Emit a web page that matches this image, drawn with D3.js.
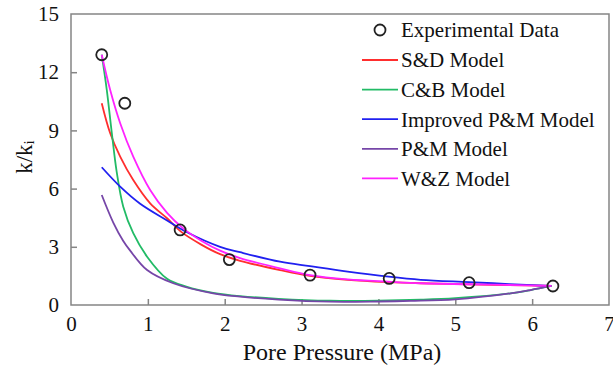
<!DOCTYPE html>
<html>
<head>
<meta charset="utf-8">
<script src="https://cdn.jsdelivr.net/npm/d3@7"></script>
<style>
  body { margin: 0; background: #fff; }
</style>
</head>
<body>
<script>
// values: [pore pressure (MPa), k/ki]
const experimental = [[0.40, 12.9], [0.70, 10.4], [1.42, 3.87], [2.06, 2.34], [3.11, 1.54], [4.14, 1.37], [5.18, 1.15], [6.27, 0.98]];

const sdModel = [[0.40, 10.4], [0.51, 8.85], [0.64, 7.65], [0.81, 6.44], [1.03, 5.24], [1.25, 4.47], [1.43, 3.78], [1.70, 3.1], [1.94, 2.62], [2.20, 2.28], [2.72, 1.8], [3.11, 1.5], [3.60, 1.3], [4.13, 1.18], [4.55, 1.12], [5.18, 1.06], [5.70, 1.02], [6.25, 0.99]];
const cbModel = [[0.40, 12.9], [0.465, 11.1], [0.53, 8.9], [0.595, 6.85], [0.68, 5.07], [0.81, 3.7], [0.99, 2.49], [1.25, 1.35], [1.50, 0.95], [1.85, 0.63], [2.20, 0.46], [2.70, 0.32], [3.37, 0.22], [4.00, 0.22], [4.55, 0.27], [5.00, 0.35], [5.72, 0.6], [5.98, 0.77], [6.25, 0.98]];
const improvedPmModel = [[0.40, 7.1], [0.64, 6.1], [0.90, 5.22], [1.25, 4.36], [1.51, 3.75], [1.94, 3.0], [2.20, 2.72], [2.72, 2.23], [3.11, 2.0], [3.60, 1.72], [4.13, 1.46], [4.55, 1.3], [5.18, 1.18], [5.70, 1.08], [6.25, 0.98]];
const pmModel = [[0.40, 5.67], [0.55, 4.25], [0.68, 3.3], [0.77, 2.8], [0.99, 1.8], [1.33, 1.12], [1.85, 0.6], [2.20, 0.43], [2.70, 0.28], [3.37, 0.17], [4.00, 0.18], [4.42, 0.21], [5.00, 0.29], [5.72, 0.6], [5.98, 0.77], [6.25, 0.98]];
const wzModel = [[0.40, 12.9], [0.51, 11.08], [0.64, 9.37], [0.81, 7.65], [1.03, 5.93], [1.25, 4.75], [1.46, 3.95], [1.70, 3.3], [1.94, 2.8], [2.20, 2.42], [2.72, 1.89], [3.11, 1.54], [3.60, 1.32], [4.13, 1.2], [4.55, 1.12], [5.18, 1.07], [5.70, 1.03], [6.25, 0.99]];

const xTicks = [0, 1, 2, 3, 4, 5, 6, 7];
const yTicks = [0, 3, 6, 9, 12, 15];

const models = [
    {name: "S&D Model", data: sdModel, color: "#ff2e2e"},
    {name: "C&B Model", data: cbModel, color: "#22bb66"},
    {name: "Improved P&M Model", data: improvedPmModel, color: "#2020f0"},
    {name: "P&M Model", data: pmModel, color: "#7646a8"},
    {name: "W&Z Model", data: wzModel, color: "#ff22ff"}
];

const serif = "'Liberation Serif', 'Times New Roman', serif";
const width = 613, height = 369;
const margin = {left: 71, right: 4, top: 14, bottom: 64};

const svg = d3.select("body").append("svg")
    .attr("width", width)
    .attr("height", height);

const x = d3.scaleLinear().domain([0, 7]).range([margin.left, width - margin.right]);
const y = d3.scaleLinear().domain([0, 15]).range([height - margin.bottom, margin.top]);

// frame
svg.append("rect")
    .attr("x", x(0)).attr("y", y(15))
    .attr("width", x(7) - x(0)).attr("height", y(0) - y(15))
    .attr("fill", "none").attr("stroke", "#858585").attr("stroke-width", 1.5);

const xAxis = svg.append("g")
    .attr("transform", "translate(0," + y(0) + ")")
    .call(d3.axisBottom(x).tickValues(xTicks).tickSizeInner(-6).tickSizeOuter(0).tickPadding(11).tickFormat(d3.format("d")));
const yAxis = svg.append("g")
    .attr("transform", "translate(" + x(0) + ",0)")
    .call(d3.axisLeft(y).tickValues(yTicks).tickSizeInner(-6).tickSizeOuter(0).tickPadding(12).tickFormat(d3.format("d")));

[xAxis, yAxis].forEach(g => {
    g.select(".domain").remove();
    g.selectAll(".tick line").attr("stroke", "#858585").attr("stroke-width", 1.5);
    g.selectAll(".tick text")
        .style("font-family", serif)
        .style("font-size", "21px")
        .attr("fill", "#111");
});
xAxis.selectAll(".tick").filter(d => d === 0 || d === 7).select("line").remove();
yAxis.selectAll(".tick").filter(d => d === 0 || d === 15).select("line").remove();

// curves
const line = d3.line()
    .x(d => x(d[0]))
    .y(d => y(d[1]))
    .curve(d3.curveCatmullRom.alpha(0.5));

svg.append("g")
    .selectAll("path")
    .data(models)
    .join("path")
        .attr("d", d => line(d.data))
        .attr("fill", "none")
        .attr("stroke", d => d.color)
        .attr("stroke-width", 1.8);

svg.append("g")
    .selectAll("circle")
    .data(experimental)
    .join("circle")
        .attr("cx", d => x(d[0]))
        .attr("cy", d => y(d[1]))
        .attr("r", 5.5)
        .attr("fill", "none")
        .attr("stroke", "#222")
        .attr("stroke-width", 1.8);

// axis titles
svg.append("text")
    .attr("x", 342)
    .attr("y", 360)
    .attr("text-anchor", "middle")
    .style("font-family", serif)
    .style("font-size", "24px")
    .attr("fill", "#111")
    .text("Pore Pressure (MPa)");

const yTitle = svg.append("text")
    .attr("transform", "translate(32,157) rotate(-90)")
    .attr("text-anchor", "middle")
    .style("font-family", serif)
    .style("font-size", "23px")
    .attr("fill", "#111");
yTitle.append("tspan").text("k/k");
yTitle.append("tspan").style("font-size", "15px").attr("dy", 2).text("i");

// legend
const legend = svg.append("g");
legend.append("circle")
    .attr("cx", 380).attr("cy", 30).attr("r", 5.5)
    .attr("fill", "none").attr("stroke", "#222").attr("stroke-width", 1.8);
legend.append("text")
    .attr("x", 401).attr("y", 30).attr("dy", "0.35em")
    .style("font-family", serif)
    .style("font-size", "21px")
    .attr("fill", "#111")
    .text("Experimental Data");

const rows = legend.selectAll("g.row")
    .data(models)
    .join("g")
        .attr("class", "row")
        .attr("transform", (d, i) => "translate(0," + (60 + i * 29.6) + ")");
rows.append("line")
    .attr("x1", 362).attr("x2", 398)
    .attr("stroke", d => d.color).attr("stroke-width", 1.8);
rows.append("text")
    .attr("x", 401).attr("dy", "0.35em")
    .style("font-family", serif)
    .style("font-size", "21px")
    .attr("fill", "#111")
    .text(d => d.name);
</script>
</body>
</html>
